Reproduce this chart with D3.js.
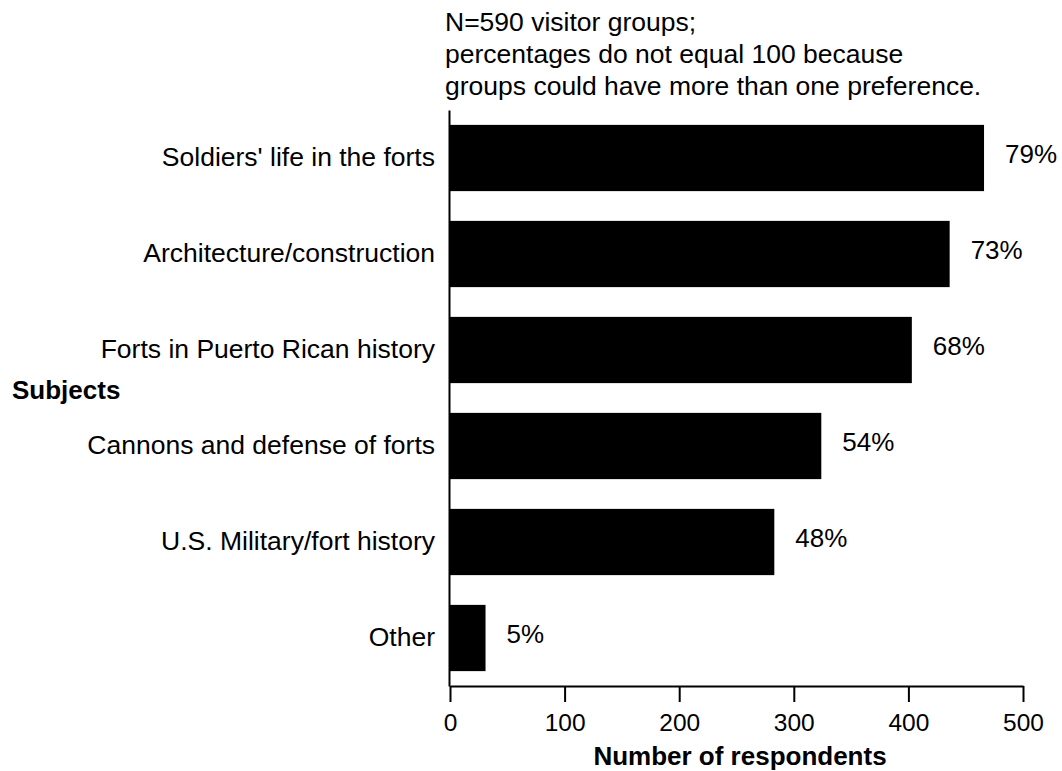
<!DOCTYPE html>
<html>
<head>
<meta charset="utf-8">
<script src="https://cdn.jsdelivr.net/npm/d3@7"></script>
<style>
  html, body { margin: 0; padding: 0; background: #fff; }
  svg { display: block; font-family: "Liberation Sans", Arial, sans-serif; }
</style>
</head>
<body>
<svg id="chart" width="1062" height="771"></svg>
<script>
const categories = [
  "Soldiers' life in the forts",
  "Architecture/construction",
  "Forts in Puerto Rican history",
  "Cannons and defense of forts",
  "U.S. Military/fort history",
  "Other"
];
const respondents = [466, 436, 403, 324, 283, 31];
const percentLabels = ["79%", "73%", "68%", "54%", "48%", "5%"];
const xTicks = [0, 100, 200, 300, 400, 500];
const noteLines = [
  "N=590 visitor groups;",
  "percentages do not equal 100 because",
  "groups could have more than one preference."
];
const yTitle = "Subjects";
const xTitle = "Number of respondents";

const svg = d3.select("#chart");

const x = d3.scaleLinear().domain([0, 500]).range([450, 1023]);
const y = d3.scaleBand().domain(categories).range([110, 686])
  .paddingInner(0.31).paddingOuter(0.155);

// bars
svg.append("g").selectAll("rect")
  .data(categories)
  .join("rect")
  .attr("x", x(0))
  .attr("y", d => y(d))
  .attr("width", (d, i) => x(respondents[i]) - x(0))
  .attr("height", y.bandwidth())
  .attr("fill", "#000");

// percentage labels
svg.append("g").selectAll("text")
  .data(categories)
  .join("text")
  .attr("x", (d, i) => x(respondents[i]) + 21)
  .attr("y", d => y(d) + y.bandwidth() / 2 - 4)
  .attr("dy", "0.35em")
  .attr("font-size", 26)
  .attr("fill", "#000")
  .text((d, i) => percentLabels[i]);

// y axis
const yAxis = svg.append("g")
  .attr("transform", `translate(${x(0) - 1},0)`)
  .call(d3.axisLeft(y).tickSize(0).tickSizeOuter(0).tickPadding(14));
yAxis.select(".domain").attr("stroke", "#000").attr("stroke-width", 2);
yAxis.selectAll("text")
  .attr("font-size", 26.5)
  .attr("font-family", "Liberation Sans, Arial, sans-serif")
  .attr("fill", "#000")
  .attr("dy", "0.3em");

// x axis
const xAxis = svg.append("g")
  .attr("transform", `translate(0,686)`)
  .call(d3.axisBottom(x).tickValues(xTicks).tickSize(16).tickSizeOuter(0).tickPadding(12));
xAxis.select(".domain").attr("stroke", "#000").attr("stroke-width", 2);
xAxis.selectAll(".tick line").attr("stroke", "#000").attr("stroke-width", 2);
xAxis.selectAll("text")
  .attr("font-size", 24.5)
  .attr("font-family", "Liberation Sans, Arial, sans-serif")
  .attr("fill", "#000");

// axis titles
svg.append("text")
  .attr("x", 740)
  .attr("y", 765)
  .attr("text-anchor", "middle")
  .attr("font-size", 26)
  .attr("font-weight", "bold")
  .text(xTitle);

svg.append("text")
  .attr("x", 12)
  .attr("y", 399)
  .attr("font-size", 26)
  .attr("font-weight", "bold")
  .text(yTitle);

// note
svg.append("g").selectAll("text")
  .data(noteLines)
  .join("text")
  .attr("x", 445)
  .attr("y", (d, i) => 31 + i * 32)
  .attr("font-size", 26.5)
  .text(d => d);
</script>
</body>
</html>
